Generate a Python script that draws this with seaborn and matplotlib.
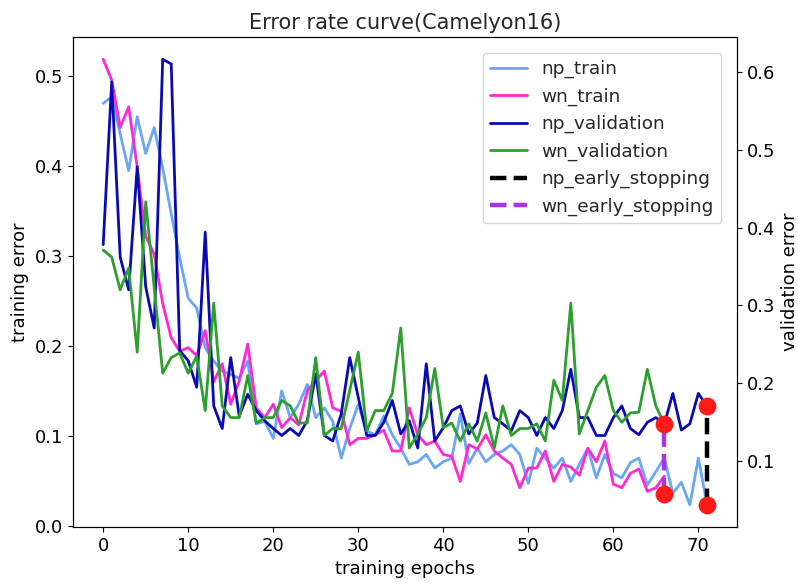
import numpy as np
import matplotlib
matplotlib.use("Agg")
import matplotlib.pyplot as plt
import seaborn as sns

# ---------------- DATA ----------------
np_train = [0.470, 0.477, 0.436, 0.395, 0.455, 0.414, 0.443, 0.398, 0.347, 0.298,
            0.253, 0.242, 0.198, 0.183, 0.172, 0.168, 0.164, 0.183, 0.113, 0.116,
            0.097, 0.150, 0.120, 0.135, 0.157, 0.120, 0.131, 0.116, 0.075, 0.108,
            0.135, 0.105, 0.101, 0.122, 0.101, 0.086, 0.068, 0.071, 0.079, 0.064,
            0.071, 0.075, 0.124, 0.069, 0.086, 0.071, 0.079, 0.083, 0.090, 0.079,
            0.047, 0.086, 0.075, 0.064, 0.075, 0.049, 0.068, 0.086, 0.053, 0.079,
            0.058, 0.053, 0.070, 0.075, 0.045, 0.060, 0.075, 0.036, 0.048, 0.023,
            0.075, 0.025]
wn_train = [0.519, 0.496, 0.443, 0.466, 0.399, 0.322, 0.302, 0.247, 0.209, 0.194,
            0.198, 0.189, 0.217, 0.160, 0.180, 0.135, 0.161, 0.202, 0.131, 0.120,
            0.135, 0.109, 0.120, 0.112, 0.150, 0.161, 0.172, 0.131, 0.127, 0.090,
            0.097, 0.097, 0.101, 0.106, 0.083, 0.083, 0.131, 0.101, 0.090, 0.094,
            0.079, 0.077, 0.049, 0.090, 0.085, 0.101, 0.083, 0.075, 0.068, 0.042,
            0.064, 0.064, 0.083, 0.049, 0.068, 0.065, 0.056, 0.086, 0.071, 0.094,
            0.046, 0.042, 0.058, 0.063, 0.038, 0.042, 0.055]
np_validation = [0.378, 0.587, 0.362, 0.320, 0.478, 0.324, 0.271, 0.616, 0.610, 0.242,
                 0.229, 0.195, 0.394, 0.171, 0.142, 0.233, 0.158, 0.186, 0.165, 0.152,
                 0.142, 0.133, 0.142, 0.133, 0.152, 0.212, 0.133, 0.126, 0.161, 0.233,
                 0.182, 0.133, 0.133, 0.150, 0.178, 0.135, 0.152, 0.117, 0.225, 0.126,
                 0.143, 0.165, 0.171, 0.135, 0.149, 0.210, 0.156, 0.148, 0.139, 0.165,
                 0.156, 0.133, 0.156, 0.142, 0.165, 0.218, 0.156, 0.156, 0.133, 0.133,
                 0.156, 0.171, 0.142, 0.134, 0.150, 0.156, 0.148, 0.187, 0.140, 0.148,
                 0.187, 0.171]
wn_validation = [0.371, 0.362, 0.320, 0.348, 0.240, 0.433, 0.323, 0.213, 0.233, 0.239,
                 0.213, 0.235, 0.165, 0.303, 0.171, 0.156, 0.156, 0.210, 0.149, 0.156,
                 0.156, 0.178, 0.171, 0.149, 0.149, 0.233, 0.133, 0.142, 0.142, 0.191,
                 0.240, 0.139, 0.165, 0.165, 0.187, 0.271, 0.117, 0.135, 0.156, 0.219,
                 0.143, 0.149, 0.126, 0.148, 0.126, 0.162, 0.117, 0.171, 0.133, 0.142,
                 0.142, 0.148, 0.126, 0.204, 0.178, 0.303, 0.135, 0.165, 0.195, 0.210,
                 0.165, 0.150, 0.162, 0.163, 0.218, 0.171, 0.148]

np_stop_epoch = 71
wn_stop_epoch = 66
np_stop_vals = [0.044, 0.171]
wn_stop_vals = [0.058, 0.148]

np_epochs = np.arange(len(np_train))
wn_epochs = np.arange(len(wn_train))

# ---------------- STYLE ----------------
sns.set_style('ticks', {'axes.edgecolor': 'black', 'xtick.color': 'black',
                        'ytick.color': 'black', 'axes.labelcolor': 'black'})
plt.rcParams['font.family'] = ['DejaVu Sans']
plt.rcParams['font.size'] = 13
plt.rcParams['xtick.labelsize'] = 13
plt.rcParams['ytick.labelsize'] = 13
plt.rcParams['axes.labelsize'] = 13
plt.rcParams['legend.fontsize'] = 13.3

c_np_train = '#6ba6f5'
c_wn_train = '#ff28d2'
c_np_val = '#0a0ab4'
c_wn_val = '#2ca02c'
lw = 2.0

# ---------------- PLOT ----------------
fig, ax = plt.subplots(figsize=(7.98, 5.87), dpi=100)
fig.subplots_adjust(left=0.0915, right=0.9236, top=0.937, bottom=0.102)
ax2 = ax.twinx()

sns.lineplot(x=np_epochs, y=np_train, ax=ax, color=c_np_train, lw=lw, label='np_train')
sns.lineplot(x=wn_epochs, y=wn_train, ax=ax, color=c_wn_train, lw=lw, label='wn_train')
sns.lineplot(x=np_epochs, y=np_validation, ax=ax2, color=c_np_val, lw=lw, label='np_validation')
sns.lineplot(x=wn_epochs, y=wn_validation, ax=ax2, color=c_wn_val, lw=lw, label='wn_validation')
# vertical early-stopping markers (same x twice -> no aggregation)
sns.lineplot(x=[np_stop_epoch] * 2, y=np_stop_vals, ax=ax2, color='black', lw=3.2,
             linestyle='--', estimator=None, sort=False, label='np_early_stopping')
sns.lineplot(x=[wn_stop_epoch] * 2, y=wn_stop_vals, ax=ax2, color='#a633ee', lw=3.2,
             linestyle='--', estimator=None, sort=False, label='wn_early_stopping')
ax2.scatter([np_stop_epoch] * 2 + [wn_stop_epoch] * 2, np_stop_vals + wn_stop_vals,
            s=165, color='#ff1a1a', zorder=5, linewidths=0)

ax.set_title('Error rate curve(Camelyon16)', fontsize=15)
ax.set_xlabel('training epochs')
ax.set_ylabel('training error')
ax2.set_ylabel('validation error')
ax.set_xticks(range(0, 71, 10))
ax.set_yticks(np.arange(0, 0.51, 0.1))
ax2.set_yticks(np.arange(0.1, 0.61, 0.1))

# combined legend
h1, l1 = ax.get_legend_handles_labels()
h2, l2 = ax2.get_legend_handles_labels()
if ax.get_legend() is not None:
    ax.get_legend().remove()
ax2.legend(h1 + h2, l1 + l2, loc='upper right', frameon=True, borderaxespad=0.85)

plt.savefig('out.png', dpi=100)
